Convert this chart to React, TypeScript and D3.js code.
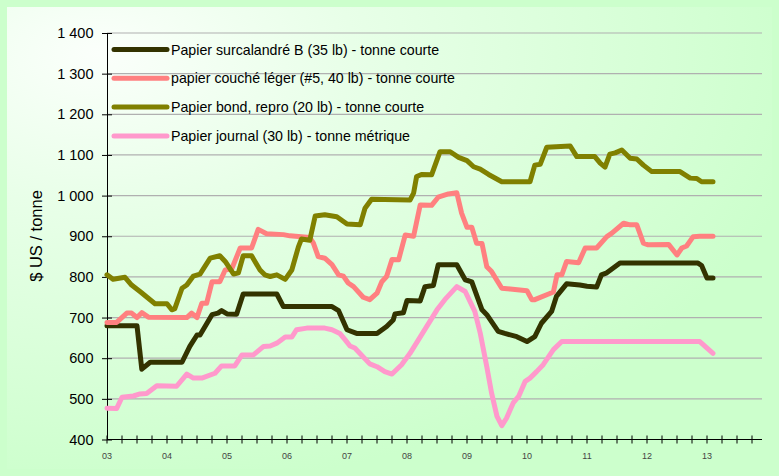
import React, { useEffect, useRef } from "react";
import * as d3 from "d3";

// [decimal year, $ US / tonne]
const surcalandreB: [number, number][] = [
  [2003.0, 680], [2003.5, 680], [2003.58, 573], [2003.72, 590], [2004.25, 590], [2004.38, 629],
  [2004.5, 657], [2004.55, 657], [2004.75, 707], [2004.85, 711], [2004.91, 717], [2005.0, 709],
  [2005.16, 708], [2005.27, 758], [2005.83, 758], [2005.94, 727], [2006.75, 727], [2006.86, 717],
  [2007.0, 670], [2007.16, 661], [2007.5, 661], [2007.66, 678], [2007.77, 694], [2007.8, 709],
  [2007.94, 712], [2008.0, 742], [2008.22, 741], [2008.3, 776], [2008.44, 779], [2008.52, 830],
  [2008.83, 830], [2008.97, 793], [2009.08, 788], [2009.25, 719], [2009.33, 707], [2009.52, 666],
  [2009.63, 661], [2009.83, 653], [2010.0, 641], [2010.13, 653], [2010.24, 686], [2010.41, 715],
  [2010.49, 752], [2010.66, 783], [2010.88, 780], [2011.0, 777], [2011.16, 775], [2011.24, 805],
  [2011.33, 810], [2011.55, 834], [2012.85, 834], [2012.91, 828], [2013.0, 797], [2013.1, 797],
];

const coucheLeger: [number, number][] = [
  [2003.0, 688], [2003.16, 688], [2003.33, 711], [2003.41, 711], [2003.5, 700], [2003.58, 712],
  [2003.69, 701], [2004.33, 700], [2004.41, 711], [2004.5, 700], [2004.58, 735], [2004.66, 735],
  [2004.75, 788], [2004.88, 788], [2004.97, 817], [2005.08, 820], [2005.22, 871], [2005.41, 871],
  [2005.52, 917], [2005.66, 906], [2005.94, 904], [2006.05, 901], [2006.38, 897], [2006.44, 883],
  [2006.52, 850], [2006.63, 846], [2006.75, 830], [2006.86, 805], [2006.94, 802], [2007.02, 785],
  [2007.11, 776], [2007.27, 750], [2007.38, 744], [2007.5, 760], [2007.58, 788], [2007.66, 801],
  [2007.75, 843], [2007.86, 842], [2007.97, 903], [2008.11, 900], [2008.22, 977], [2008.41, 976],
  [2008.52, 996], [2008.69, 1004], [2008.83, 1007], [2008.91, 957], [2009.0, 922], [2009.08, 922],
  [2009.16, 883], [2009.25, 882], [2009.33, 825], [2009.41, 813], [2009.58, 772], [2009.72, 770],
  [2010.0, 766], [2010.08, 744], [2010.13, 744], [2010.36, 758], [2010.44, 763], [2010.5, 805],
  [2010.58, 805], [2010.66, 838], [2010.86, 835], [2010.97, 871], [2011.16, 871], [2011.33, 899],
  [2011.41, 907], [2011.61, 932], [2011.72, 928], [2011.83, 928], [2011.94, 883], [2012.02, 879],
  [2012.36, 880], [2012.5, 854], [2012.58, 871], [2012.66, 876], [2012.77, 899], [2012.88, 900],
  [2013.1, 900],
];

const bondRepro: [number, number][] = [
  [2003.0, 805], [2003.1, 794], [2003.3, 799], [2003.41, 780], [2003.55, 764], [2003.8, 734],
  [2004.0, 734], [2004.08, 719], [2004.13, 722], [2004.25, 772], [2004.33, 780], [2004.44, 802],
  [2004.55, 807], [2004.72, 846], [2004.88, 852], [2004.97, 838], [2005.11, 807], [2005.19, 810],
  [2005.27, 852], [2005.41, 852], [2005.55, 817], [2005.63, 805], [2005.72, 801], [2005.83, 805],
  [2005.97, 794], [2006.08, 817], [2006.19, 874], [2006.24, 893], [2006.38, 890], [2006.47, 950],
  [2006.63, 953], [2006.83, 948], [2007.0, 930], [2007.22, 928], [2007.3, 969], [2007.41, 991],
  [2008.05, 989], [2008.11, 1006], [2008.16, 1047], [2008.25, 1052], [2008.41, 1051], [2008.55, 1108],
  [2008.72, 1108], [2008.86, 1094], [2009.0, 1086], [2009.11, 1071], [2009.22, 1065], [2009.36, 1052],
  [2009.58, 1034], [2010.05, 1034], [2010.13, 1075], [2010.22, 1077], [2010.33, 1119], [2010.72, 1122],
  [2010.83, 1096], [2011.13, 1096], [2011.22, 1080], [2011.3, 1070], [2011.38, 1102], [2011.47, 1105],
  [2011.58, 1112], [2011.72, 1092], [2011.83, 1090], [2011.94, 1075], [2012.08, 1059], [2012.55, 1059],
  [2012.72, 1043], [2012.83, 1042], [2012.91, 1034], [2013.1, 1034],
];

const journal: [number, number][] = [
  [2003.0, 477], [2003.16, 476], [2003.25, 504], [2003.44, 507], [2003.55, 512], [2003.66, 513],
  [2003.83, 532], [2004.16, 531], [2004.33, 561], [2004.44, 551], [2004.58, 551], [2004.8, 563],
  [2004.91, 581], [2005.13, 581], [2005.25, 608], [2005.44, 608], [2005.61, 629], [2005.72, 630],
  [2005.83, 637], [2005.97, 652], [2006.08, 652], [2006.16, 670], [2006.33, 674], [2006.63, 674],
  [2006.75, 670], [2006.88, 661], [2006.97, 645], [2007.05, 630], [2007.13, 625], [2007.24, 608],
  [2007.38, 586], [2007.5, 579], [2007.63, 567], [2007.75, 561], [2007.91, 584], [2008.05, 612],
  [2008.19, 645], [2008.5, 719], [2008.63, 744], [2008.83, 776], [2008.97, 764], [2009.13, 715],
  [2009.22, 662], [2009.33, 579], [2009.41, 514], [2009.5, 457], [2009.58, 434], [2009.66, 453],
  [2009.77, 490], [2009.86, 506], [2009.97, 543], [2010.05, 551], [2010.16, 567], [2010.27, 584],
  [2010.44, 621], [2010.58, 641], [2012.88, 641], [2013.1, 612],
];

const seriesNames = [
  "Papier surcalandré B (35 lb) - tonne courte",
  "papier couché léger (#5, 40 lb) - tonne courte",
  "Papier bond, repro (20 lb) - tonne courte",
  "Papier journal (30 lb) - tonne métrique",
];
const yearTicks = [2003, 2004, 2005, 2006, 2007, 2008, 2009, 2010, 2011, 2012, 2013];
const yTicks = [400, 500, 600, 700, 800, 900, 1000, 1100, 1200, 1300, 1400];

const colors = ["#333300", "#ff8080", "#808000", "#ff99cc"];
const FONT = "Arial, 'Liberation Sans', sans-serif";

export default function App() {
  const ref = useRef<SVGSVGElement>(null);

  useEffect(() => {
    const width = 779, height = 476;
    const svg = d3.select(ref.current).attr("width", width).attr("height", height);
    svg.selectAll("*").remove();

    const x = d3.scaleLinear().domain([2003, 2014]).range([107, 767]);
    const y = d3.scaleLinear().domain([400, 1400]).range([439.5, 33]);
    const xEnd = 762;

    // background
    svg.append("rect").attr("width", width).attr("height", height).attr("fill", "#ccffcc");
    const grad = svg.append("defs").append("radialGradient").attr("id", "bg")
      .attr("cx", "0.12").attr("cy", "0.1").attr("r", "0.95");
    grad.append("stop").attr("offset", "0").attr("stop-color", "#fbfffb");
    grad.append("stop").attr("offset", "0.35").attr("stop-color", "#e8ffe8");
    grad.append("stop").attr("offset", "1").attr("stop-color", "#ccffcc");
    svg.append("rect").attr("x", 7).attr("y", 7).attr("width", 765).attr("height", 462).attr("fill", "url(#bg)");

    // gridlines
    svg.append("g").selectAll("line").data(yTicks.filter(d => d > 400)).join("line")
      .attr("x1", x(2003)).attr("x2", xEnd)
      .attr("y1", d => y(d)).attr("y2", d => y(d))
      .attr("stroke", "#b0b0b0").attr("stroke-width", 1.2);

    // y axis
    const fmt = d3.formatLocale({ decimal: ",", thousands: " ", grouping: [3], currency: ["", "$"] }).format(",");
    const yAxis = svg.append("g").attr("transform", `translate(${x(2003)},0)`)
      .call(d3.axisLeft(y).tickValues(yTicks).tickSize(5).tickSizeOuter(0).tickPadding(8.5).tickFormat(d => fmt(d as number)));
    yAxis.select(".domain").attr("stroke", "#000");
    yAxis.selectAll(".tick line").attr("stroke", "#000").attr("x2", 5).attr("x1", -5);
    yAxis.selectAll("text").attr("font-family", FONT).attr("font-size", 14.5).attr("fill", "#000");

    // x axis
    const quarters = d3.range(0, 44).map(i => 2003 + i / 4);
    const xAxis = svg.append("g").attr("transform", `translate(0,${y(400)})`);
    xAxis.append("line").attr("x1", x(2003)).attr("x2", xEnd).attr("stroke", "#000");
    xAxis.selectAll(".qt").data(quarters).join("line").attr("class", "qt")
      .attr("x1", d => x(d)).attr("x2", d => x(d)).attr("y1", -4).attr("y2", 4).attr("stroke", "#000");
    xAxis.selectAll("text").data(yearTicks).join("text")
      .attr("x", d => x(d)).attr("y", 19).attr("text-anchor", "middle")
      .attr("font-family", FONT).attr("font-size", 9).attr("fill", "#444")
      .text(d => String(d % 100).padStart(2, "0"));

    svg.append("text").attr("transform", `translate(42,236) rotate(-90)`)
      .attr("text-anchor", "middle").attr("font-family", FONT).attr("font-size", 16.5)
      .text("$ US / tonne");

    // lines
    const line = d3.line<[number, number]>().x(d => x(d[0])).y(d => y(d[1]));
    const all = [surcalandreB, coucheLeger, bondRepro, journal];
    svg.append("g").selectAll("path").data(all).join("path")
      .attr("d", d => line(d))
      .attr("fill", "none").attr("stroke", (_, i) => colors[i])
      .attr("stroke-width", 5).attr("stroke-linejoin", "round").attr("stroke-linecap", "round");

    // legend
    const legend = svg.append("g").selectAll("g").data(seriesNames).join("g")
      .attr("transform", (_, i) => `translate(114,${49.5 + i * 28.8})`);
    legend.append("line").attr("x1", 0).attr("x2", 53)
      .attr("stroke", (_, i) => colors[i]).attr("stroke-width", 5).attr("stroke-linecap", "round");
    legend.append("text").attr("x", 57).attr("y", 5)
      .attr("font-family", FONT).attr("font-size", 14.2).attr("fill", "#000")
      .text(d => d);
  }, []);

  return <svg ref={ref} style={{ position: "absolute", left: 0, top: 0, display: "block" }} />;
}
